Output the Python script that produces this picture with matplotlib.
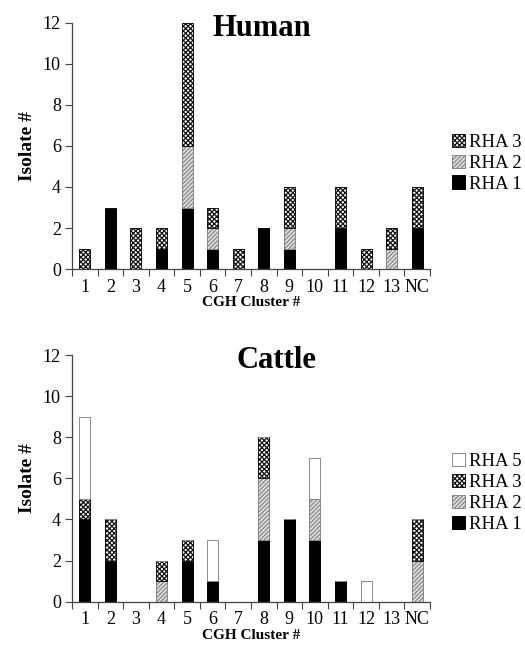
import numpy as np
import matplotlib
matplotlib.use("Agg")
import matplotlib.pyplot as plt
from matplotlib.patches import Patch

plt.rcParams['font.family'] = ['Liberation Serif', 'DejaVu Serif']
plt.rcParams['hatch.linewidth'] = 0.9

clusters = ['1', '2', '3', '4', '5', '6', '7', '8', '9', '10', '11', '12', '13', 'NC']

# human isolates per CGH cluster
human_rha1 = [0, 3, 0, 1, 3, 1, 0, 2, 1, 0, 2, 0, 0, 2]
human_rha2 = [0, 0, 0, 0, 3, 1, 0, 0, 1, 0, 0, 0, 1, 0]
human_rha3 = [1, 0, 2, 1, 6, 1, 1, 0, 2, 0, 2, 1, 1, 2]

# cattle isolates per CGH cluster
cattle_rha1 = [4, 2, 0, 0, 2, 1, 0, 3, 4, 3, 1, 0, 0, 0]
cattle_rha2 = [0, 0, 0, 1, 0, 0, 0, 3, 0, 2, 0, 0, 0, 2]
cattle_rha3 = [1, 2, 0, 1, 1, 0, 0, 2, 0, 0, 0, 0, 0, 2]
cattle_rha5 = [4, 0, 0, 0, 0, 2, 0, 0, 0, 2, 0, 1, 0, 0]

styles = {
    'RHA 1': dict(facecolor='black', edgecolor='black', hatch=None),
    'RHA 2': dict(facecolor='#e0e0e0', edgecolor='#888888', hatch='////////'),
    'RHA 3': dict(facecolor='white', edgecolor='#111111', hatch='xxxxxxx'),
    'RHA 5': dict(facecolor='white', edgecolor='#8a8a8a', hatch=None),
}


def draw_panel(ax, series, title, tx, legend_y):
    x = np.arange(len(clusters))
    bottom = np.zeros(len(clusters))
    for name, vals in series:
        vals = np.array(vals, dtype=float)
        st = styles[name]
        ax.bar(x, vals, width=0.43, bottom=bottom, facecolor=st['facecolor'],
               edgecolor=st['edgecolor'], hatch=st['hatch'], linewidth=0.7)
        bottom += vals

    ax.set_xlim(-0.5, len(clusters) - 0.5)
    ax.set_ylim(0, 12)
    ax.set_yticks(range(0, 13, 2))
    ax.set_xticks(np.arange(-0.5, len(clusters), 1.0))
    ax.set_xticklabels([])
    ax.set_xticks(x, minor=True)
    ax.set_xticklabels(clusters, minor=True)
    ax.tick_params(axis='x', which='major', direction='out', length=5, width=0.8, color='#444444')
    ax.tick_params(axis='x', which='minor', length=0, pad=7, labelsize=13)
    ax.tick_params(axis='y', direction='out', length=5, width=0.8, color='#444444',
                   labelsize=13, pad=3)
    for s in ['top', 'right']:
        ax.spines[s].set_visible(False)
    for s in ['left', 'bottom']:
        ax.spines[s].set_color('#444444')
        ax.spines[s].set_linewidth(0.9)

    ax.set_ylabel('Isolate #', fontsize=14, fontweight='bold')
    ax.yaxis.set_label_coords(-0.1, 0.5)
    ax.set_xlabel('CGH Cluster #', fontsize=11, fontweight='bold')
    ax.xaxis.set_label_coords(0.5, -0.11)
    ax.text(tx, 0.978, title, transform=ax.transAxes, ha='center', va='center',
            fontsize=22, fontweight='bold')

    handles = [Patch(facecolor=styles[n]['facecolor'], edgecolor=styles[n]['edgecolor'],
                     hatch=styles[n]['hatch'], linewidth=0.7, label=n)
               for n, _ in reversed(series)]
    ax.legend(handles=handles, loc='center left', bbox_to_anchor=(0.86, legend_y),
              bbox_transform=ax.figure.transFigure, frameon=False, fontsize=13.5,
              handlelength=0.7, handleheight=0.7, handletextpad=0.25,
              labelspacing=0.2, borderpad=0, borderaxespad=0)


fig = plt.figure(figsize=(5.25, 6.5), dpi=100)
ax1 = fig.add_axes([0.137, 0.586, 0.682, 0.379])
ax2 = fig.add_axes([0.137, 0.0743, 0.682, 0.3795])

draw_panel(ax1, [('RHA 1', human_rha1), ('RHA 2', human_rha2), ('RHA 3', human_rha3)],
           'Human', 0.53, 0.749)
draw_panel(ax2, [('RHA 1', cattle_rha1), ('RHA 2', cattle_rha2), ('RHA 3', cattle_rha3),
                 ('RHA 5', cattle_rha5)], 'Cattle', 0.57, 0.2415)

fig.savefig('out.png', dpi=100)
